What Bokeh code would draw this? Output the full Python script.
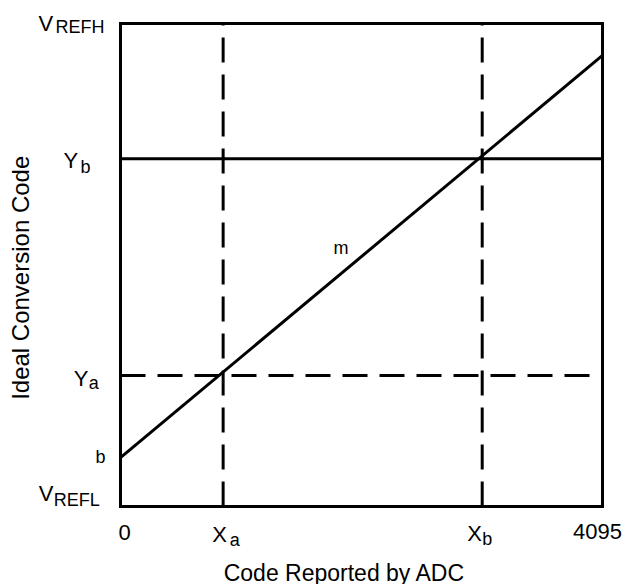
from bokeh.plotting import figure
from bokeh.models import Range1d, Label
from bokeh.embed import file_html
from bokeh.resources import INLINE
import math

# ---- data (normalised: VREFL = 0, VREFH = 100 on the y axis) ----
x_min, x_max = 0, 4095
y_refl, y_refh = 0, 100
x_a = 872
x_b = 3073
y_a = 27.1
y_b = 72.0
b_intercept = 10.1
line_x = [0, 4095]
line_y = [10.1, 93.4]
x_tick_values = [0, 872, 3073, 4095]
x_tick_labels = ["0", "X", "X", "4095"]
x_tick_subs = ["", "a", "b", ""]
y_tick_values = [100, 72.0, 27.1, 10.1, 0]
y_tick_labels = ["V", "Y", "Y", "b", "V"]
y_tick_subs = ["REFH", "b", "a", "", "REFL"]
x_title = "Code Reported by ADC"
y_title = "Ideal Conversion Code"
m_pos = (1810, 52.0)

FONT = "Liberation Sans"

# ---- layout: plot box occupies pixels 120..602 (x) and 23..506 (y) ----
W, H = 626, 584
BOX_L, BOX_R, BOX_T, BOX_B = 120, 602, 23, 506
ux = (x_max - x_min) / (BOX_R - BOX_L)
uy = (y_refh - y_refl) / (BOX_B - BOX_T)
x_rng = Range1d(x_min - BOX_L * ux, x_max + (W - BOX_R) * ux)
y_rng = Range1d(y_refl - (H - BOX_B) * uy, y_refh + BOX_T * uy)

p = figure(width=W, height=H, x_range=x_rng, y_range=y_rng,
           x_axis_type=None, y_axis_type=None, output_backend="svg",
           toolbar_location=None, min_border=0)
p.grid.visible = False
p.outline_line_color = None
p.background_fill_color = "white"
p.border_fill_color = "white"

# plot box
p.quad(left=[x_min], right=[x_max], bottom=[y_refl], top=[y_refh],
       fill_color=None, line_color="black", line_width=3, line_join="miter")

# dashed verticals at Xa, Xb
p.segment(x0=[x_a, x_b], y0=[y_refl, y_refl], x1=[x_a, x_b], y1=[y_refh, y_refh],
          line_color="black", line_width=3, line_dash="25 12")
# dashed horizontal at Ya, solid at Yb
p.segment(x0=[x_min], y0=[y_a], x1=[x_max], y1=[y_a],
          line_color="black", line_width=3, line_dash="25 12")
p.segment(x0=[x_min], y0=[y_b], x1=[x_max], y1=[y_b],
          line_color="black", line_width=3)

# transfer line
p.line(line_x, line_y, line_color="black", line_width=3)

DY = 7  # baseline correction (px, up)


def lab(x, y, text, xo, yo, size, align="left", angle=0.0, baseline="alphabetic",
        fix=True):
    if not text:
        return
    p.add_layout(Label(x=x, y=y, text=text, x_offset=xo,
                       y_offset=yo + (DY if fix else 0),
                       text_font=FONT, text_font_size=size, text_color="black",
                       text_align=align, text_baseline=baseline, angle=angle))


# y-side tick labels (main letter, subscript): offsets in px
y_main_off = [(-82, -7), (-57, -8.7), (-46.7, -10), (-25, -6), (-81.7, 6)]
y_main_size = ["22px", "22px", "22px", "18px", "22px"]
y_sub_off = [(-65, -10.3), (-40, -15.3), (-31.7, -14.3), (0, 0), (-66.7, -0.7)]
for v, t, s, mo, ms, so in zip(y_tick_values, y_tick_labels, y_tick_subs,
                               y_main_off, y_main_size, y_sub_off):
    lab(x_min, v, t, mo[0], mo[1], ms)
    lab(x_min, v, s, so[0], so[1], "18px")

# x-side tick labels
x_main_off = [(4, -33), (-11, -34.7), (-15, -34), (-5, -32.3)]
x_main_align = ["center", "left", "left", "center"]
x_main_size = ["22px", "22px", "22px", "22px"]
x_sub_off = [(0, 0), (6.6, -40.7), (0, -39), (0, 0)]
for v, t, s, mo, al, ms, so in zip(x_tick_values, x_tick_labels, x_tick_subs,
                                   x_main_off, x_main_align, x_main_size, x_sub_off):
    lab(v, y_refl, t, mo[0], mo[1], ms, align=al)
    lab(v, y_refl, s, so[0], so[1], "18px")

# axis titles
lab((x_min + x_max) / 2, y_refl, x_title, -17, -73, "23px", align="center")
lab(x_min, (y_refl + y_refh) / 2, y_title, -100.5, -12.8, "24px",
    align="center", angle=math.pi / 2, baseline="middle", fix=False)

# slope label
lab(m_pos[0], m_pos[1], "m", 0, 0, "18px")

open("out.html", "w").write(file_html(p, INLINE))
